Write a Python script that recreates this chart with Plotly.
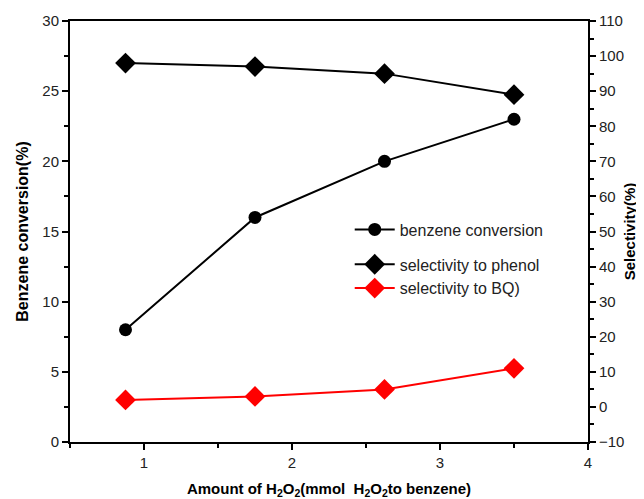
import plotly.graph_objects as go

h2o2_amount = [0.875, 1.75, 2.625, 3.5]
benzene_conversion = [8, 16, 20, 23]
selectivity_phenol = [98, 97, 95, 89]
selectivity_bq = [2, 3, 5, 11]

FONT = "Liberation Sans, Arial, sans-serif"

fig = go.Figure()
fig.add_trace(go.Scatter(x=h2o2_amount, y=benzene_conversion, name="benzene conversion",
                         mode="lines+markers", line=dict(color="black", width=2), legendgroup="a",
                         marker=dict(symbol="circle", size=13, color="black"), yaxis="y"))
fig.add_trace(go.Scatter(x=h2o2_amount, y=selectivity_phenol, name="selectivity to phenol",
                         mode="lines+markers", line=dict(color="black", width=2), legendgroup="b",
                         marker=dict(symbol="diamond", size=16, color="black"), yaxis="y2"))
fig.add_trace(go.Scatter(x=h2o2_amount, y=selectivity_bq, name="selectivity to BQ)",
                         mode="lines+markers", line=dict(color="red", width=2), legendgroup="b",
                         marker=dict(symbol="diamond", size=16, color="red"), yaxis="y2"))

axis_common = dict(showgrid=False, zeroline=False, showline=True, linecolor="black", linewidth=2,
                   ticks="outside", ticklen=6, tickwidth=2, tickcolor="black", automargin=False,
                   tickfont=dict(family=FONT, size=15, color="#222"))

fig.update_layout(
    width=636, height=491,
    margin=dict(l=62, r=56, t=13, b=57, autoexpand=False),
    plot_bgcolor="white", paper_bgcolor="white",
    font=dict(family=FONT, color="black"),
    xaxis=dict(range=[0.5, 4], tickvals=[1, 2, 3, 4], mirror=True,
               minor=dict(dtick=0.5, ticks="outside", ticklen=4, tickwidth=1.5, tickcolor="black"),
               title=dict(text="<b>Amount of H<sub>2</sub>O<sub>2</sub>(mmol  H<sub>2</sub>O<sub>2</sub>to benzene)</b>",
                          font=dict(family=FONT, size=15), standoff=14),
               **axis_common),
    yaxis=dict(range=[0, 30], dtick=5,
               minor=dict(dtick=2.5, ticks="outside", ticklen=4, tickwidth=1.5, tickcolor="black"),
               title=dict(text="<b>Benzene conversion(%)</b>", font=dict(family=FONT, size=16), standoff=10),
               **axis_common),
    yaxis2=dict(range=[-10, 110], dtick=10, overlaying="y", side="right",
                minor=dict(dtick=5, ticks="outside", ticklen=4, tickwidth=1.5, tickcolor="black"),
                title=dict(text="<b>Selectivity(%)</b>", font=dict(family=FONT, size=15), standoff=1),
                **axis_common),
    legend=dict(x=0.54, y=0.545, xanchor="left", yanchor="top", bgcolor="rgba(0,0,0,0)",
                font=dict(family=FONT, size=16, color="#222"), tracegroupgap=11, itemwidth=40),
    showlegend=True,
)

fig.write_html("out.html")
